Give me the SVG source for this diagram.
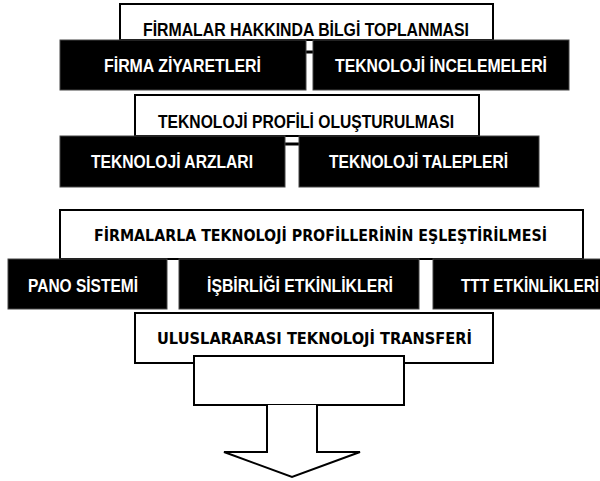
<svg xmlns="http://www.w3.org/2000/svg" width="600" height="481" viewBox="0 0 600 481">
<style>
.wb{fill:#fff;stroke:#000;stroke-width:2}
.bb{fill:#000;stroke:#444;stroke-width:1}
.tn{font-family:"Liberation Sans",Arial,sans-serif;font-weight:bold;font-size:17.5px}
.tw{fill:#fff}
.tk{fill:#000}
.td{font-family:"DejaVu Sans","Liberation Sans",sans-serif;font-weight:bold;font-size:15px;fill:#000}
.cn{stroke:#000;stroke-width:3;fill:none}
</style>
<rect width="600" height="481" fill="#fff"/>
<g id="n-bilgi">
<rect class="wb" x="120" y="4" width="373" height="36"/>
<text class="tn tk" x="143" y="36" textLength="326" lengthAdjust="spacingAndGlyphs">FİRMALAR HAKKINDA BİLGİ TOPLANMASI</text>
</g>
<g id="n-profil">
<rect class="wb" x="135" y="95" width="344" height="41"/>
<text class="tn tk" x="158" y="128" textLength="296" lengthAdjust="spacingAndGlyphs">TEKNOLOJİ PROFİLİ OLUŞTURULMASI</text>
</g>
<g id="n-eslestirme">
<rect class="wb" x="60" y="210" width="523" height="49"/>
<text class="td" x="94" y="241" textLength="453" lengthAdjust="spacingAndGlyphs">FİRMALARLA TEKNOLOJİ PROFİLLERİNİN EŞLEŞTİRİLMESİ</text>
</g>
<g id="n-uluslararasi">
<rect class="wb" x="135" y="313" width="358" height="50"/>
<text class="td" x="157" y="344" textLength="315" lengthAdjust="spacingAndGlyphs">ULUSLARARASI TEKNOLOJİ TRANSFERİ</text>
</g>
<g id="connectors">
<line class="cn" x1="306" y1="52" x2="313" y2="52"/>
<line class="cn" x1="285" y1="144" x2="299" y2="144"/>
</g>
<g id="n-ziyaret">
<rect class="bb" x="60" y="40" width="246" height="50"/>
<text class="tn tw" x="104" y="72" textLength="157" lengthAdjust="spacingAndGlyphs">FİRMA ZİYARETLERİ</text>
</g>
<g id="n-inceleme">
<rect class="bb" x="313" y="40" width="256" height="50"/>
<text class="tn tw" x="335" y="72" textLength="212" lengthAdjust="spacingAndGlyphs">TEKNOLOJİ İNCELEMELERİ</text>
</g>
<g id="n-arz">
<rect class="bb" x="60" y="136" width="225" height="51"/>
<text class="tn tw" x="91" y="168" textLength="162" lengthAdjust="spacingAndGlyphs">TEKNOLOJİ ARZLARI</text>
</g>
<g id="n-talep">
<rect class="bb" x="299" y="136" width="240" height="51"/>
<text class="tn tw" x="329" y="168" textLength="179" lengthAdjust="spacingAndGlyphs">TEKNOLOJİ TALEPLERİ</text>
</g>
<g id="n-pano">
<rect class="bb" x="8" y="259" width="159" height="50"/>
<text class="tn tw" x="28" y="292" textLength="110" lengthAdjust="spacingAndGlyphs">PANO SİSTEMİ</text>
</g>
<g id="n-isbirligi">
<rect class="bb" x="179" y="259" width="240" height="50"/>
<text class="tn tw" x="207" y="292" textLength="186" lengthAdjust="spacingAndGlyphs">İŞBİRLİĞİ ETKİNLİKLERİ</text>
</g>
<g id="n-ttt">
<rect class="bb" x="433" y="259" width="180" height="50"/>
<text class="tn tw" x="461" y="292" textLength="138" lengthAdjust="spacingAndGlyphs">TTT ETKİNLİKLERİ</text>
</g>
<g id="n-arrow">
<rect class="wb" x="194" y="356" width="210" height="49"/>
<path class="wb" d="M267,405 L267,452 L224,452 L292,477 L360,452 L317,452 L317,405"/>
</g>
</svg>
